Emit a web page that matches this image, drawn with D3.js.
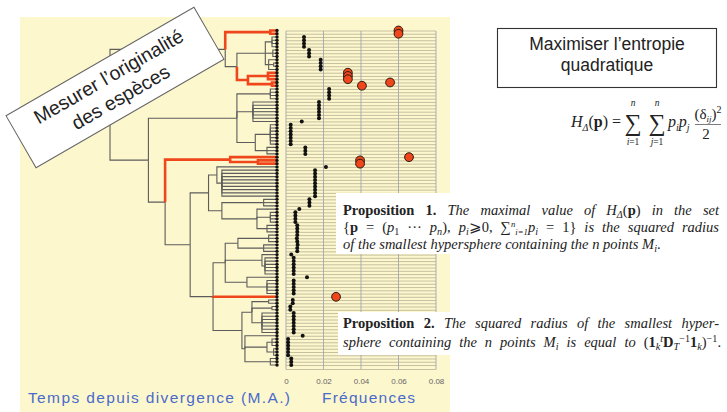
<!DOCTYPE html>
<html>
<head>
<meta charset="utf-8">
<script src="https://cdn.jsdelivr.net/npm/d3@7"></script>
<style>
  html, body { margin: 0; padding: 0; background: #ffffff; }
  svg { display: block; }
  .sans { font-family: "Liberation Sans", Arial, sans-serif; }
  .serif { font-family: "Liberation Serif", "Times New Roman", serif; }
</style>
</head>
<body>
<svg id="chart" width="727" height="412"></svg>
<script>
// Phylogeny: an internal node is [age, ...children], a tip is 0.
const tree =
[100,
  [31,
    [4, 0, 0],
    [24,
      [7,
        [3, 0, 0, 0, 0],
        [2.5, 0, 0, 0],
        [5, 0, [2, 0, 0], 0]],
      [17.4,
        [5.4, 0, 0, 0],
        [3, 0, 0]]]],
  [77,
    [24,
      [4, 0, 0, 0, 0],
      [14.4, 0, 0, 0, 0, 0, 0, 0],
      [13,
        [4, 0, 0, 0, 0, 0, 0, 0],
        [6, 0, 0, 0]]],
    [67,
      [28, 0, [11.4, 0, 0]],
      [52,
        [41,
          [36, 0, [33, 0, 0, 0, 0, 0, 0, 0, 0, 0]],
          [33,
            [8, 0, 0, 0],
            [12, 0, [4, 0, 0, 0, 0], [6, 0, 0, 0]]]],
        [38.3,
          [31,
            [23.4, [5, 0, 0, 0], [8, 0, 0, 0]],
            [9, 0, [7.2, 0, 0, 0, 0, 0, 0]],
            [18, 0, [6, 0, 0, 0, 0, 0]]],
          0,
          [21,
            [15, [5, 0, 0], [3, 0, 0], [9, 0, 0, 0, 0, 0, 0, 0]],
            [19.2, 0, [6, [3, 0, 0, 0], [2, 0, 0, 0]], [4, 0, 0, 0]]]]]]]];

// Optimal frequency of each species, in tip order (top to bottom).
const frequencies = [
  0.060, 0.060,
  0.0096, 0.0096, 0.0096, 0.0096,
  0.0123, 0.0123, 0.0123,
  0.0185, 0.0185, 0.0185, 0.0185,
  0.033, 0.033, 0.033,
  0.0555,
  0.0405,
  0.023, 0.023, 0.023, 0.023,
  0.0176, 0.0176, 0.0176, 0.0176, 0.0176, 0.0176,
  0.0084,
  0.0025, 0.0025, 0.0025, 0.0025, 0.0025, 0.0025, 0.0025,
  0.0103, 0.0103, 0.0103,
  0.0656,
  0.0395, 0.0395,
  0.0213,
  0.0155, 0.0155, 0.0155, 0.0155, 0.0155, 0.0155, 0.0155, 0.0155, 0.0155,
  0.0125, 0.0125, 0.0125,
  0.0071,
  0.0050, 0.0050, 0.0050, 0.0050,
  0.0060, 0.0060, 0.0060,
  0.0060, 0.0058, 0.0060, 0.0062, 0.0060, 0.0060,
  0.0028,
  0.0041, 0.0041, 0.0041, 0.0041, 0.0041, 0.0041,
  0.0112,
  0.0041, 0.0041, 0.0041, 0.0041, 0.0041,
  0.0267,
  0.0036, 0.0036,
  0.0023, 0.0023,
  0.0041, 0.0041, 0.0041, 0.0041, 0.0041, 0.0041, 0.0041,
  0.0089,
  0.0011, 0.0011, 0.0011, 0.0011, 0.0011, 0.0011,
  0.0028, 0.0028, 0.0028
];

// Species singled out as the most original ones.
const highlighted = [0, 1, 13, 14, 15, 16, 17, 39, 40, 41, 82];

const freqTicks = [0, 0.02, 0.04, 0.06, 0.08];
const treeAxisTitle = "Temps depuis divergence (M.A.)";
const freqAxisTitle = "Fréquences";

const RED = "#f0461b";
const svg = d3.select("#chart");

// ---- scales ----
const N = frequencies.length;
const xAge = d3.scaleLinear().domain([0, 100]).range([277, 110]);
const yRow = d3.scaleLinear().domain([0, N - 1]).range([30.5, 365]);
const xFreq = d3.scaleLinear().domain([0, 0.08]).range([286, 436]);

// ---- panel ----
svg.append("rect").attr("x", 20).attr("y", 17).attr("width", 430).attr("height", 395)
  .attr("fill", "#fdf7cd");

// ---- frequency grid ----
const grid = svg.append("g");
grid.selectAll("line.h").data(d3.range(N)).join("line")
  .attr("x1", xFreq(0)).attr("x2", xFreq(0.08))
  .attr("y1", i => yRow(i) + 0.5).attr("y2", i => yRow(i) + 0.5)
  .attr("stroke", "#b8b196").attr("stroke-width", 0.8);
grid.selectAll("line.v").data(freqTicks).join("line")
  .attr("x1", d => xFreq(d)).attr("x2", d => xFreq(d))
  .attr("y1", yRow(0) + 0.5).attr("y2", yRow(N - 1) + 4.5)
  .attr("stroke", "#a4a4b2").attr("stroke-width", 0.9);
grid.append("line")
  .attr("x1", xFreq(0)).attr("x2", xFreq(0.08))
  .attr("y1", yRow(N - 1) + 4.5).attr("y2", yRow(N - 1) + 4.5)
  .attr("stroke", "#b8b196").attr("stroke-width", 0.8);

const axis = d3.axisBottom(xFreq).tickValues(freqTicks).tickSize(0).tickPadding(0)
  .tickFormat(d => d === 0 ? "0" : d3.format(".2f")(d));
const gAxis = svg.append("g").attr("transform", "translate(0,378)").call(axis);
gAxis.select(".domain").remove();
gAxis.selectAll("text").attr("font-size", 8).attr("fill", "#666")
  .attr("font-family", "Liberation Sans, Arial, sans-serif");

// ---- phylogeny ----
const redSet = new Set(highlighted);
const root = d3.hierarchy(tree, d => Array.isArray(d) ? d.slice(1) : null);
root.leaves().forEach((leaf, i) => { leaf.row = i; });
root.eachAfter(n => {
  n.age = Array.isArray(n.data) ? n.data[0] : 0;
  n.px = xAge(n.age);
  n.py = n.children
    ? (n.children[0].py + n.children[n.children.length - 1].py) / 2
    : yRow(n.row);
  n.red = n.children ? n.children.every(c => c.red) : redSet.has(n.row);
});
const links = root.descendants().filter(n => n.parent);
const elbow = n => `M${n.parent.px},${n.parent.py}V${n.py}H${n.px}`;

const gTree = svg.append("g").attr("fill", "none");
gTree.selectAll("path.black").data(links.filter(n => !n.red)).join("path")
  .attr("d", elbow).attr("stroke", "#5c5c5c").attr("stroke-width", 1.1);
gTree.selectAll("path.red").data(links.filter(n => n.red)).join("path")
  .attr("d", elbow).attr("stroke", RED).attr("stroke-width", 2.6);

svg.append("g").selectAll("circle").data(root.leaves()).join("circle")
  .attr("cx", d => d.px).attr("cy", d => d.py).attr("r", 1.7)
  .attr("fill", "#111");

// ---- frequency dots ----
const rows = frequencies.map((v, i) => ({ v, i, red: redSet.has(i) }));
svg.append("g").selectAll("circle").data(rows.filter(d => !d.red)).join("circle")
  .attr("cx", d => xFreq(d.v)).attr("cy", d => yRow(d.i)).attr("r", 2)
  .attr("fill", "#111");
svg.append("g").selectAll("circle").data(rows.filter(d => d.red)).join("circle")
  .attr("cx", d => xFreq(d.v)).attr("cy", d => yRow(d.i)).attr("r", 4.4)
  .attr("fill", RED).attr("stroke", "#2a1a10").attr("stroke-width", 1);

// ---- axis titles ----
svg.append("text").attr("class", "sans").attr("x", 28).attr("y", 403)
  .attr("font-size", 15.5).attr("fill", "#4a6bcb")
  .attr("textLength", 262).attr("lengthAdjust", "spacing").text(treeAxisTitle);
svg.append("text").attr("class", "sans").attr("x", 322).attr("y", 403)
  .attr("font-size", 15.5).attr("fill", "#4a6bcb")
  .attr("textLength", 93).attr("lengthAdjust", "spacing").text(freqAxisTitle);

// ---- rotated label ----
const tag = svg.append("g").attr("transform", "translate(115,87.5) rotate(-30)");
tag.append("rect").attr("x", -108.5).attr("y", -30).attr("width", 217).attr("height", 60)
  .attr("fill", "#fff").attr("stroke", "#666").attr("stroke-width", 1);
tag.append("text").attr("class", "sans").attr("text-anchor", "middle").attr("x", 0).attr("y", -6)
  .attr("font-size", 19.5).attr("fill", "#222").text("Mesurer l’originalité");
tag.append("text").attr("class", "sans").attr("text-anchor", "middle").attr("x", 0).attr("y", 18)
  .attr("font-size", 19.5).attr("fill", "#222").text("des espèces");

// ---- title box ----
svg.append("rect").attr("x", 497.5).attr("y", 28.5).attr("width", 219).attr("height", 59)
  .attr("fill", "#fff").attr("stroke", "#333").attr("stroke-width", 1.1);
svg.append("text").attr("class", "sans").attr("text-anchor", "middle").attr("x", 607).attr("y", 50)
  .attr("font-size", 17.5).attr("fill", "#222").text("Maximiser l’entropie");
svg.append("text").attr("class", "sans").attr("text-anchor", "middle").attr("x", 607).attr("y", 71)
  .attr("font-size", 17.5).attr("fill", "#222").text("quadratique");

// ---- rich text helper: sub/superscripts use small fixed shifts ----
function rich(sel, segs) {
  segs.forEach(s => {
    const t = sel.append("tspan").text(s.t);
    if (s.i) t.attr("font-style", "italic");
    if (s.b) t.attr("font-weight", "bold");
    if (s.sub) t.attr("baseline-shift", s.shift || "-3px").attr("font-size", s.fs || "70%");
    if (s.sup) t.attr("baseline-shift", s.shift || "5px").attr("font-size", s.fs || "70%");
    if (s.dx) t.attr("dx", s.dx);
    if (s.fs && !s.sub && !s.sup) t.attr("font-size", s.fs);
  });
  return sel;
}
function justify(sel, width) {
  const node = sel.node();
  const len = node.getComputedTextLength();
  const spaces = (node.textContent.match(/ /g) || []).length;
  if (spaces) sel.attr("word-spacing", (width - len) / spaces);
}

// ---- formula ----
const f = svg.append("g").attr("class", "serif").attr("fill", "#222");
rich(f.append("text").attr("x", 571).attr("y", 127).attr("font-size", 16), [
  { t: "H", i: 1 }, { t: "Δ", i: 1, sub: 1, fs: 10, shift: "-3.5px" }, { t: "(" }, { t: "p", b: 1 }, { t: ") =" }
]);
[[633, "i"], [657, "j"]].forEach(([cx, idx]) => {
  f.append("text").attr("x", cx).attr("y", 131).attr("text-anchor", "middle").attr("font-size", 24).text("∑");
  f.append("text").attr("x", cx).attr("y", 106).attr("text-anchor", "middle").attr("font-size", 9.5)
    .attr("font-style", "italic").text("n");
  rich(f.append("text").attr("x", cx).attr("y", 145).attr("text-anchor", "middle").attr("font-size", 9.5), [
    { t: idx, i: 1 }, { t: "=1" }
  ]);
});
rich(f.append("text").attr("x", 668).attr("y", 127).attr("font-size", 16), [
  { t: "p", i: 1 }, { t: "i", i: 1, sub: 1, fs: 10, shift: "-3.5px" },
  { t: "p", i: 1 }, { t: "j", i: 1, sub: 1, fs: 10, shift: "-3.5px" }
]);
rich(f.append("text").attr("x", 708).attr("y", 119).attr("text-anchor", "middle").attr("font-size", 15), [
  { t: "(δ" }, { t: "ij", i: 1, sub: 1, fs: 9 }, { t: ")" }, { t: "2", sup: 1, fs: 10, shift: "6px" }
]);
f.append("line").attr("x1", 695).attr("x2", 721).attr("y1", 124.5).attr("y2", 124.5)
  .attr("stroke", "#444").attr("stroke-width", 0.7);
f.append("text").attr("x", 706).attr("y", 139).attr("text-anchor", "middle").attr("font-size", 15).text("2");

// ---- Proposition 1 ----
svg.append("rect").attr("x", 336).attr("y", 193).attr("width", 391).attr("height", 61).attr("fill", "#fff");
const p1 = svg.append("g").attr("class", "serif").attr("fill", "#222").attr("font-size", 14.5);
justify(rich(p1.append("text").attr("x", 343).attr("y", 215), [
  { t: "Proposition 1.", b: 1 }, { t: " The maximal value of ", i: 1 }, { t: "H", i: 1 },
  { t: "Δ", i: 1, sub: 1 }, { t: "(" }, { t: "p", b: 1 }, { t: ")" }, { t: " in the set", i: 1 }
]), 376);
justify(rich(p1.append("text").attr("x", 343).attr("y", 232), [
  { t: "{" }, { t: "p", b: 1 }, { t: " = (" }, { t: "p", i: 1 }, { t: "1", sub: 1 }, { t: " ··· " },
  { t: "p", i: 1 }, { t: "n", i: 1, sub: 1 }, { t: "), " }, { t: "p", i: 1 }, { t: "i", i: 1, sub: 1 },
  { t: "⩾0, ∑" }, { t: "n", i: 1, sup: 1, fs: "60%" }, { t: "i=1", i: 1, sub: 1, fs: "60%" },
  { t: "p", i: 1 }, { t: "i", i: 1, sub: 1 }, { t: " = 1}" }, { t: " is the squared radius", i: 1 }
]), 376);
rich(p1.append("text").attr("x", 343).attr("y", 249), [
  { t: "of the smallest hypersphere containing the n points ", i: 1 }, { t: "M", i: 1 },
  { t: "i", i: 1, sub: 1 }, { t: "." }
]);

// ---- Proposition 2 ----
svg.append("rect").attr("x", 338).attr("y", 312).attr("width", 389).attr("height", 43).attr("fill", "#fff");
const p2 = svg.append("g").attr("class", "serif").attr("fill", "#222").attr("font-size", 14.5);
justify(rich(p2.append("text").attr("x", 343).attr("y", 328), [
  { t: "Proposition 2.", b: 1 }, { t: " The squared radius of the smallest hyper-", i: 1 }
]), 376);
justify(rich(p2.append("text").attr("x", 343).attr("y", 347), [
  { t: "sphere containing the n points ", i: 1 }, { t: "M", i: 1 }, { t: "i", i: 1, sub: 1 },
  { t: " is equal to ", i: 1 }, { t: "(" }, { t: "1", b: 1 }, { t: "k", i: 1, sub: 1 },
  { t: "t", i: 1, sup: 1 }, { t: "D", b: 1 }, { t: "T", i: 1, sub: 1 },
  { t: "−1", sup: 1 }, { t: "1", b: 1 }, { t: "k", i: 1, sub: 1 }, { t: ")" },
  { t: "−1", sup: 1 }, { t: "." }
]), 378);
</script>
</body>
</html>
